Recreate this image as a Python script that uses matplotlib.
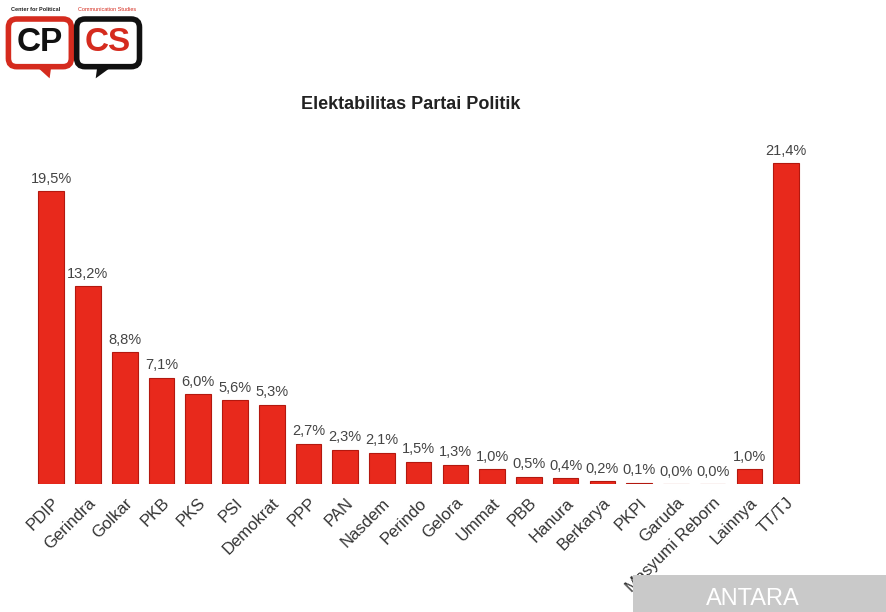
import matplotlib.pyplot as plt
from matplotlib.patches import Rectangle, Polygon

partai = ["PDIP", "Gerindra", "Golkar", "PKB", "PKS", "PSI", "Demokrat", "PPP",
          "PAN", "Nasdem", "Perindo", "Gelora", "Ummat", "PBB", "Hanura",
          "Berkarya", "PKPI", "Garuda", "Masyumi Reborn", "Lainnya", "TT/TJ"]
nilai = [19.5, 13.2, 8.8, 7.1, 6.0, 5.6, 5.3, 2.7, 2.3, 2.1, 1.5, 1.3, 1.0,
         0.5, 0.4, 0.2, 0.1, 0.0, 0.0, 1.0, 21.4]

plt.rcParams['font.family'] = ['Liberation Sans', 'DejaVu Sans']

fig = plt.figure(figsize=(8.86, 6.12), dpi=100)
ax = fig.add_axes([0.037, 0.209, 0.871, 0.564])

x = range(len(partai))
ax.bar(x, nilai, width=0.7, color='#e8291c', edgecolor='#b3180f', linewidth=0.8)
for i, v in zip(x, nilai):
    ax.text(i, v + 0.35, ("%.1f%%" % v).replace('.', ','), ha='center', va='bottom',
            fontsize=10.5, color='#444444')

ax.set_xlim(-0.5, len(partai) - 0.5)
ax.set_ylim(0, 23)
ax.set_xticks(list(x))
ax.set_xticklabels(partai, rotation=45, ha='right', rotation_mode='anchor',
                   fontsize=12, color='#333333')
ax.tick_params(axis='x', length=0, pad=8)
ax.set_yticks([])
for s in ax.spines.values():
    s.set_visible(False)

fig.text(0.464, 0.83, "Elektabilitas Partai Politik", ha='center', va='center',
         fontsize=13, fontweight='bold', color='#222222')

# logo kiri atas
fig.text(0.012, 0.985, "Center for Political", fontsize=4, fontweight='bold',
         color='#222222', va='center')
fig.text(0.088, 0.985, "Communication Studies", fontsize=4, color='#d52b1e', va='center')
fig.text(0.045, 0.93, "CP", fontsize=24, fontweight='bold', color='#111111',
         ha='center', va='center',
         bbox=dict(boxstyle='round,pad=0.25', fc='white', ec='#d52b1e', lw=4))
fig.text(0.122, 0.93, "CS", fontsize=24, fontweight='bold', color='#d52b1e',
         ha='center', va='center',
         bbox=dict(boxstyle='round,pad=0.25', fc='white', ec='#111111', lw=4))
fig.patches.append(Polygon([(0.040, 0.893), (0.058, 0.893), (0.056, 0.872)],
                           closed=True, transform=fig.transFigure, fc='#d52b1e', ec='none'))
fig.patches.append(Polygon([(0.110, 0.893), (0.128, 0.893), (0.108, 0.872)],
                           closed=True, transform=fig.transFigure, fc='#111111', ec='none'))

# watermark
fig.patches.append(Rectangle((0.715, 0.0), 0.29, 0.06, transform=fig.transFigure,
                             fc='#c9c9c9', ec='none', zorder=0))
fig.text(0.85, 0.004, "ANTARA", fontsize=17, color='white', ha='center', va='bottom')

plt.savefig("out.png", dpi=100)
